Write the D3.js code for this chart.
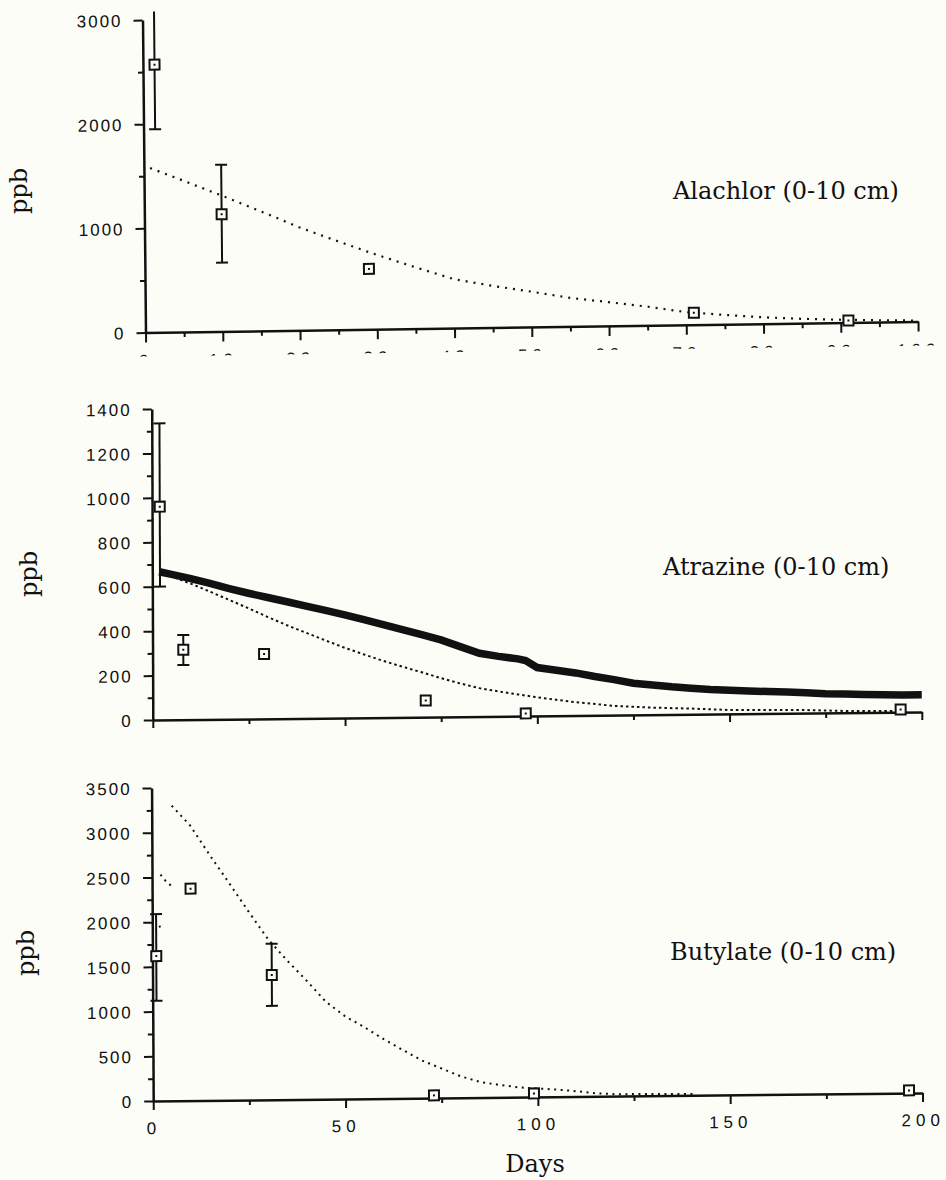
<!DOCTYPE html>
<html>
<head>
<meta charset="utf-8">
<script src="https://cdn.jsdelivr.net/npm/d3@7"></script>
<style>
body { margin: 0; background: #fdfdf8; }
svg { display: block; }
.tick text { font-family: "Liberation Sans", Arial, sans-serif; font-size: 17px; fill: #111; }
.lbl { font-family: "DejaVu Serif", serif; font-size: 24px; fill: #111; }
</style>
</head>
<body>
<div id="chart"></div>
<script>

/****** data ******/
// Alachlor (0-10 cm)
var alaObsDay = [1.5, 10, 29, 71, 91];
var alaObsPpb = [2570, 1125, 580, 115, 20];
var alaErrLo  = [1950, 660, null, null, null];
var alaErrHi  = [3080, 1600, null, null, null];
var alaModelDay = [0.8, 5, 10, 15, 20, 25, 30, 35, 40, 45, 50, 55, 60, 65, 70, 75, 80, 85, 90, 95, 100];
var alaModelPpb = [1578, 1455, 1305, 1150, 990, 850, 715, 590, 470, 400, 340, 275, 228, 180, 122, 90, 62, 42, 28, 18, 10];

// Atrazine (0-10 cm)
var atzObsDay = [2, 8, 29, 71, 97, 194.5];
var atzObsPpb = [960, 315, 292, 75, 12, 12];
var atzErrLo  = [600, 246, null, null, null, null];
var atzErrHi  = [1335, 381, null, null, null, null];
var atzModelDay = [1.8, 5, 10, 15, 20, 25, 30, 35, 40, 45, 50, 55, 60, 65, 70, 75, 80, 85, 90, 95, 100, 110, 120, 130, 140, 150, 160, 170, 180, 190, 194];
var atzModelPpb = [662, 645, 612, 575, 537, 498, 458, 420, 385, 350, 316, 285, 255, 228, 202, 175, 150, 128, 112, 98, 84, 60, 42, 32, 26, 18, 16, 14, 8, 6, 6];
var atzThickDay = [1.8, 5, 10, 15, 20, 25, 30, 35, 40, 45, 50, 55, 60, 65, 70, 75, 80, 85, 90, 95, 97, 100, 105, 110, 115, 120, 125, 130, 135, 140, 145, 150, 155, 160, 165, 170, 175, 180, 185, 190, 195, 200];
var atzThickPpb = [667, 655, 635, 612, 588, 566, 546, 526, 505, 485, 464, 442, 418, 395, 372, 347, 316, 285, 270, 258, 250, 218, 205, 192, 175, 160, 143, 134, 125, 118, 111, 107, 103, 99, 96, 92, 87, 84, 81, 79, 77, 77];

// Butylate (0-10 cm)
var butObsDay = [1, 10, 31, 73, 99, 196.5];
var butObsPpb = [1620, 2370, 1395, 30, 40, 30];
var butErrLo  = [1120, null, 1050, null, null, null];
var butErrHi  = [2090, null, 1745, null, null, null];
// null = break in the dotted model line
var butModelDay = [1.9, 2.0, null, 2.2, 3.5, 5.1, null, 5.2, 10, 15, 20, 25, 30, 35, 40, 45, 50, 55, 60, 65, 70, 75, 80, 85, 90, 95, 100, 105, 110, 115, 120, 130, 141];
var butModelPpb = [1960, 1940, null, 2530, 2460, 2400, null, 3300, 3075, 2745, 2430, 2110, 1800, 1555, 1330, 1090, 925, 800, 665, 540, 420, 330, 240, 175, 140, 110, 95, 80, 60, 35, 22, 20, 16];

var topXTicks = d3.range(0, 101, 10);
var topXMinor = d3.range(5, 100, 10);
var daysTicks = [0, 50, 100, 150, 200];
var daysMinor = [25, 75, 125, 175];

var ink = "#111";
var bg = "#fdfdf8";
var W = 946, H = 1180;

var svg = d3.select("#chart").append("svg")
    .attr("width", W)
    .attr("height", H);
svg.append("rect").attr("width", W).attr("height", H).attr("fill", bg);

function zip(a, b) {
    return a.map(function (d, i) { return [d, b[i]]; });
}

function panel(c) {
    var x = d3.scaleLinear().domain([0, c.xMax]).range([0, c.w]);
    var y = d3.scaleLinear().domain([0, c.yMax]).range([0, -c.h]);

    // the scan is slightly skewed, so each panel is too
    var g = svg.append("g")
        .attr("transform", "translate(" + c.ox + "," + c.oy + ") skewY(" + c.skY + ") skewX(" + c.skX + ")");

    // y axis
    var ya = g.append("g").call(d3.axisLeft(y).tickValues(c.yMajor).tickSize(9).tickSizeOuter(0)
        .tickPadding(11).tickFormat(d3.format("d")));
    g.append("g").call(d3.axisLeft(y).tickValues(c.yMinor).tickSize(5).tickFormat(""))
        .select(".domain").remove();
    ya.selectAll("text").attr("letter-spacing", "2px").attr("dy", "0.36em");

    // x axis
    var xa = g.append("g").call(d3.axisBottom(x).tickValues(c.xMajor).tickSize(c.xTick).tickSizeOuter(0)
        .tickPadding(12).tickFormat(c.xLabels ? d3.format("d") : ""));
    g.append("g").call(d3.axisBottom(x).tickValues(c.xMinor).tickSize(5).tickFormat(""))
        .select(".domain").remove();
    xa.selectAll("text").attr("letter-spacing", "5px");
    if (c.clipLabels) {
        var id = "clip" + c.name;
        g.append("clipPath").attr("id", id).append("rect")
            .attr("x", -60).attr("y", -c.h - 30).attr("width", c.w + 120).attr("height", c.h + 30 + c.clipLabels);
        xa.attr("clip-path", "url(#" + id + ")");
    }

    g.selectAll(".domain").attr("stroke", ink).attr("stroke-width", 2.5);
    g.selectAll(".tick line").attr("stroke", ink).attr("stroke-width", 2);

    // model lines
    c.lines.forEach(function (l) {
        var line = d3.line()
            .defined(function (d) { return d[1] != null; })
            .x(function (d) { return x(d[0]); })
            .y(function (d) { return y(d[1]); });
        g.append("path")
            .datum(zip(l.day, l.ppb))
            .attr("d", line)
            .attr("fill", "none")
            .attr("stroke", ink)
            .attr("stroke-width", l.width)
            .attr("stroke-dasharray", l.dash || null);
    });

    // error bars
    var obs = c.obsDay.map(function (d, i) {
        return {day: d, ppb: c.obsPpb[i], lo: c.errLo[i], hi: c.errHi[i]};
    });
    var eb = g.selectAll(".err").data(obs.filter(function (d) { return d.lo != null; }))
        .enter().append("g").attr("class", "err")
        .attr("stroke", ink).attr("stroke-width", 2);
    eb.append("line")
        .attr("x1", function (d) { return x(d.day); }).attr("x2", function (d) { return x(d.day); })
        .attr("y1", function (d) { return y(d.lo); }).attr("y2", function (d) { return y(d.hi); });
    eb.append("line")
        .attr("x1", function (d) { return x(d.day) - 6; }).attr("x2", function (d) { return x(d.day) + 6; })
        .attr("y1", function (d) { return y(d.lo); }).attr("y2", function (d) { return y(d.lo); });
    eb.filter(function (d) { return d.hi <= c.yMax; }).append("line")
        .attr("x1", function (d) { return x(d.day) - 6; }).attr("x2", function (d) { return x(d.day) + 6; })
        .attr("y1", function (d) { return y(d.hi); }).attr("y2", function (d) { return y(d.hi); });

    // observed squares
    var pts = g.selectAll(".pt").data(obs).enter().append("g").attr("class", "pt")
        .attr("transform", function (d) { return "translate(" + x(d.day) + "," + y(d.ppb) + ")"; });
    pts.append("rect").attr("x", -5).attr("y", -5).attr("width", 10).attr("height", 10)
        .attr("fill", bg).attr("stroke", ink).attr("stroke-width", 2);
    pts.append("rect").attr("x", -1).attr("y", -1).attr("width", 2).attr("height", 2).attr("fill", ink);

    // texts
    svg.append("text").attr("class", "lbl").attr("x", c.titleX).attr("y", c.titleY).text(c.title);
    svg.append("text").attr("class", "lbl").attr("text-anchor", "middle")
        .attr("transform", "translate(" + c.ppbX + "," + c.ppbY + ") rotate(-90)")
        .text("ppb");
}

panel({
    name: "ala", ox: 145.5, oy: 332.5, w: 772.5, h: 312.5, skY: -0.81, skX: 0.55,
    xMax: 100, xMajor: topXTicks, xMinor: topXMinor, xTick: 10, xLabels: true, clipLabels: 24,
    yMax: 3000, yMajor: [0, 1000, 2000, 3000], yMinor: [500, 1500, 2500],
    obsDay: alaObsDay, obsPpb: alaObsPpb, errLo: alaErrLo, errHi: alaErrHi,
    lines: [{day: alaModelDay, ppb: alaModelPpb, width: 2.2, dash: "2 6"}],
    title: "Alachlor (0-10 cm)", titleX: 673, titleY: 199, ppbX: 27, ppbY: 191
});

panel({
    name: "atz", ox: 152.8, oy: 720, w: 769, h: 311, skY: -0.6, skX: 0.2,
    xMax: 200, xMajor: daysTicks, xMinor: daysMinor, xTick: 8, xLabels: false,
    yMax: 1400, yMajor: d3.range(0, 1401, 200), yMinor: d3.range(100, 1400, 200),
    obsDay: atzObsDay, obsPpb: atzObsPpb, errLo: atzErrLo, errHi: atzErrHi,
    lines: [
        {day: atzModelDay, ppb: atzModelPpb, width: 2, dash: "2.5 3"},
        {day: atzThickDay, ppb: atzThickPpb, width: 7.5}
    ],
    title: "Atrazine (0-10 cm)", titleX: 663, titleY: 575, ppbX: 37, ppbY: 574
});

panel({
    name: "but", ox: 153.2, oy: 1101, w: 769.3, h: 313, skY: -0.6, skX: 0.3,
    xMax: 200, xMajor: daysTicks, xMinor: daysMinor, xTick: 9, xLabels: true,
    yMax: 3500, yMajor: d3.range(0, 3501, 500), yMinor: d3.range(250, 3500, 500),
    obsDay: butObsDay, obsPpb: butObsPpb, errLo: butErrLo, errHi: butErrHi,
    lines: [{day: butModelDay, ppb: butModelPpb, width: 2, dash: "2 4.5"}],
    title: "Butylate (0-10 cm)", titleX: 670, titleY: 960, ppbX: 34, ppbY: 953
});

svg.append("text").attr("class", "lbl").attr("text-anchor", "middle")
    .attr("x", 535).attr("y", 1172).text("Days");

</script>
</body>
</html>
